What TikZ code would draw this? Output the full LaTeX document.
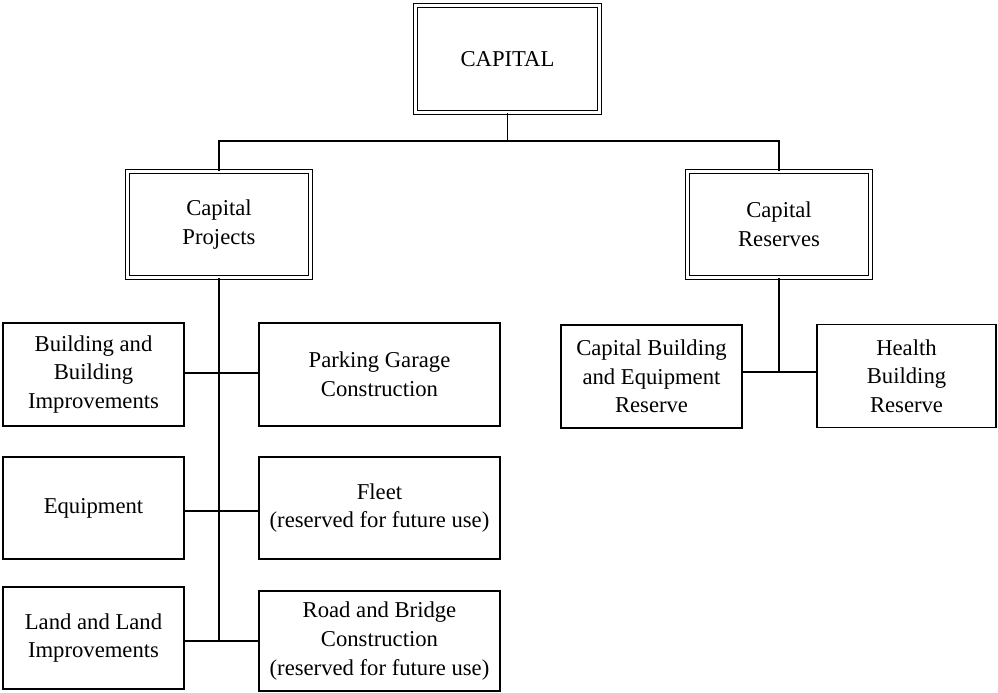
\documentclass[tikz,border=0pt]{standalone}
\usepackage{fontspec}
\setmainfont{Liberation Serif}
\begin{document}
\begin{tikzpicture}[x=0.75pt, y=-0.75pt,
  box/.style={draw, line width=1.1pt, rectangle, align=center, inner sep=0pt,
    font=\fontsize{17}{21.5}\selectfont},
  leaf/.style={box, minimum height=77pt},
  narrow/.style={leaf, minimum width=135.75pt},
  wide/.style={leaf, minimum width=180.75pt},
  head/.style={box, double, double distance=1.8pt, line width=0.9pt,
    minimum width=137.25pt, minimum height=79.5pt},
  link/.style={line width=1.1pt}]
\useasboundingbox (0,0) rectangle (998,692);

% top level
\node[head, minimum width=138pt, minimum height=80.25pt] (cap) at (507.5,59) {CAPITAL};

% second level
\node[head] (cp) at (219,224.5) {Capital\\Projects};
\node[head] (cr) at (779,224.5) {Capital\\Reserves};

% capital projects
\node[narrow] (bbi) at (93.5,374.5) {Building and\\Building\\Improvements};
\node[wide]   (pgc) at (379.5,374.5) {Parking Garage\\Construction};
\node[narrow, minimum height=76.5pt] (eq) at (93.5,508) {Equipment};
\node[wide, minimum height=76.5pt]   (fl) at (379.5,508) {Fleet\\(reserved for future use)};
\node[narrow, minimum height=76.5pt] (lli) at (93.5,638) {Land and Land\\Improvements};
\node[wide, minimum height=75pt]     (rbc) at (379.5,641) {Road and Bridge\\Construction\\(reserved for future use)};

% capital reserves
\node[narrow] (cber) at (651.5,376.5) {Capital Building\\and Equipment\\Reserve};
\node[narrow, minimum width=134.25pt] (hbr) at (906.5,376) {Health\\Building\\Reserve};

% junction points
\coordinate (bus) at (507.5,141);
\coordinate (j1) at (219,373);
\coordinate (j2) at (219,511);
\coordinate (j3) at (219,641);
\coordinate (j4) at (779,372);

% connectors
\draw[link] (cap.south) -- (bus);
\draw[link] (cp.north) -- (cp.north |- bus) -- (cr.north |- bus) -- (cr.north);
\draw[link] (cp.south) -- (j3);
\draw[link] (bbi.east |- j1) -- (pgc.west |- j1);
\draw[link] (eq.east |- j2) -- (fl.west |- j2);
\draw[link] (lli.east |- j3) -- (rbc.west |- j3);
\draw[link] (cr.south) -- (j4);
\draw[link] (cber.east |- j4) -- (hbr.west |- j4);
\end{tikzpicture}
\end{document}
